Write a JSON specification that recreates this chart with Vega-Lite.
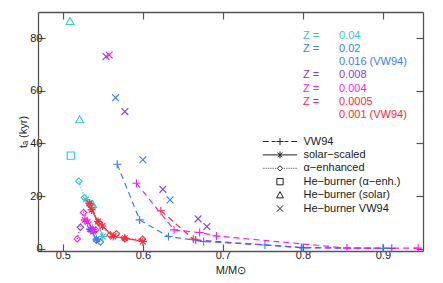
{
  "$schema": "https://vega.github.io/schema/vega-lite/v6.json",
  "autosize": "none",
  "width": 385,
  "height": 239,
  "padding": {"left": 38, "top": 12, "right": 20, "bottom": 32},
  "background": "white",
  "config": {
    "view": {"stroke": null},
    "axis": {"domainColor": "#555", "domainWidth": 1.3, "tickColor": "#555", "tickWidth": 1.2, "grid": false,
      "labelFont": "Liberation Sans", "labelFontSize": 11, "labelColor": "#222",
      "titleFont": "Liberation Sans", "titleFontSize": 11, "titleFontWeight": "normal", "titleColor": "#222"},
    "legend": {"labelFont": "Liberation Sans", "labelFontSize": 11}
  },
  "data": {"values": [
    {"M": 0.509, "t": 86.3, "Z": "0.04", "k": "hbs", "s": "c-h1"},
    {"M": 0.521, "t": 49, "Z": "0.04", "k": "hbs", "s": "c-h1"},
    {"M": 0.537, "t": 16.9, "Z": "0.04", "k": "hbs", "s": "c-h1"},
    {"M": 0.51, "t": 35.4, "Z": "0.04", "k": "hba", "s": "c-h2"},
    {"M": 0.52, "t": 25.7, "Z": "0.04", "k": "alp", "s": "c-a"},
    {"M": 0.527, "t": 19.5, "Z": "0.04", "k": "alp", "s": "c-a"},
    {"M": 0.538, "t": 15.8, "Z": "0.04", "k": "alp", "s": "c-a"},
    {"M": 0.529, "t": 18.7, "Z": "0.04", "k": "sol", "s": "c-s"},
    {"M": 0.534, "t": 17.2, "Z": "0.04", "k": "sol", "s": "c-s"},
    {"M": 0.55, "t": 4.7, "Z": "0.04", "k": "sol", "s": "c-s"},

    {"M": 0.535, "t": 7.3, "Z": "0.02", "k": "sol", "s": "b-s"},
    {"M": 0.542, "t": 3.7, "Z": "0.02", "k": "sol", "s": "b-s"},
    {"M": 0.542, "t": 3.3, "Z": "0.02", "k": "alp", "s": "b-a"},
    {"M": 0.547, "t": 2.6, "Z": "0.02", "k": "alp", "s": "b-a"},
    {"M": 0.568, "t": 32.1, "Z": "0.016", "k": "vw", "s": "b-v"},
    {"M": 0.596, "t": 11, "Z": "0.016", "k": "vw", "s": "b-v"},
    {"M": 0.632, "t": 4.7, "Z": "0.016", "k": "vw", "s": "b-v"},
    {"M": 0.676, "t": 2.8, "Z": "0.016", "k": "vw", "s": "b-v"},
    {"M": 0.7525, "t": 1.5, "Z": "0.016", "k": "vw", "s": "b-v"},
    {"M": 0.8, "t": 0.4, "Z": "0.016", "k": "vw", "s": "b-v"},
    {"M": 0.9, "t": 0.2, "Z": "0.016", "k": "vw", "s": "b-v"},
    {"M": 0.566, "t": 57.4, "Z": "0.016", "k": "hbv", "s": "b-h"},
    {"M": 0.6, "t": 33.8, "Z": "0.016", "k": "hbv", "s": "b-h"},
    {"M": 0.634, "t": 18.6, "Z": "0.016", "k": "hbv", "s": "b-h"},

    {"M": 0.554, "t": 73, "Z": "0.008", "k": "hbv", "s": "p-h"},
    {"M": 0.5775, "t": 52.1, "Z": "0.008", "k": "hbv", "s": "p-h"},
    {"M": 0.625, "t": 22.6, "Z": "0.008", "k": "hbv", "s": "p-h"},
    {"M": 0.669, "t": 11.4, "Z": "0.008", "k": "hbv", "s": "p-h"},
    {"M": 0.68, "t": 8.5, "Z": "0.008", "k": "hbv", "s": "p-h"},
    {"M": 0.522, "t": 8.2, "Z": "0.008", "k": "alp", "s": "p-a"},
    {"M": 0.534, "t": 7.5, "Z": "0.008", "k": "sol", "s": "p-s"},
    {"M": 0.538, "t": 6.6, "Z": "0.008", "k": "sol", "s": "p-s"},
    {"M": 0.666, "t": 3.4, "Z": "0.008", "k": "vw", "s": "p-v"},
    {"M": 0.798, "t": 0.5, "Z": "0.008", "k": "vw", "s": "p-v"},
    {"M": 0.911, "t": 0.2, "Z": "0.008", "k": "vw", "s": "p-v"},

    {"M": 0.558, "t": 73.6, "Z": "0.004", "k": "hbv", "s": "m-h"},
    {"M": 0.518, "t": 3.8, "Z": "0.004", "k": "alp", "s": "m-a"},
    {"M": 0.526, "t": 13.8, "Z": "0.004", "k": "alp", "s": "m-a"},
    {"M": 0.541, "t": 7.2, "Z": "0.004", "k": "alp", "s": "m-a"},
    {"M": 0.5275, "t": 11, "Z": "0.004", "k": "sol", "s": "m-s"},
    {"M": 0.531, "t": 10.2, "Z": "0.004", "k": "sol", "s": "m-s"},
    {"M": 0.538, "t": 7.2, "Z": "0.004", "k": "sol", "s": "m-s"},
    {"M": 0.592, "t": 24.9, "Z": "0.004", "k": "vw", "s": "m-v"},
    {"M": 0.639, "t": 7.2, "Z": "0.004", "k": "vw", "s": "m-v"},
    {"M": 0.671, "t": 6.2, "Z": "0.004", "k": "vw", "s": "m-v"},
    {"M": 0.692, "t": 4.9, "Z": "0.004", "k": "vw", "s": "m-v"},
    {"M": 0.855, "t": 0.3, "Z": "0.004", "k": "vw", "s": "m-v"},
    {"M": 0.944, "t": 0.3, "Z": "0.004", "k": "vw", "s": "m-v"},

    {"M": 0.533, "t": 17.3, "Z": "0.0005", "k": "sol", "s": "r-s"},
    {"M": 0.536, "t": 14.8, "Z": "0.0005", "k": "sol", "s": "r-s"},
    {"M": 0.544, "t": 10.4, "Z": "0.0005", "k": "sol", "s": "r-s"},
    {"M": 0.5496, "t": 8.7, "Z": "0.0005", "k": "sol", "s": "r-s"},
    {"M": 0.563, "t": 4.7, "Z": "0.0005", "k": "sol", "s": "r-s"},
    {"M": 0.5775, "t": 4.1, "Z": "0.0005", "k": "sol", "s": "r-s"},
    {"M": 0.6, "t": 2.8, "Z": "0.0005", "k": "sol", "s": "r-s"},
    {"M": 0.534, "t": 16.7, "Z": "0.0005", "k": "alp", "s": "r-a"},
    {"M": 0.545, "t": 10, "Z": "0.0005", "k": "alp", "s": "r-a"},
    {"M": 0.559, "t": 5.3, "Z": "0.0005", "k": "alp", "s": "r-a"},
    {"M": 0.567, "t": 5.7, "Z": "0.0005", "k": "alp", "s": "r-a"},
    {"M": 0.5775, "t": 3.8, "Z": "0.0005", "k": "alp", "s": "r-a"},
    {"M": 0.5996, "t": 3.7, "Z": "0.0005", "k": "alp", "s": "r-a"},
    {"M": 0.6225, "t": 14.5, "Z": "0.001", "k": "vw", "s": "r-v"},
    {"M": 0.663, "t": 3.7, "Z": "0.001", "k": "vw", "s": "r-v"}
  ]},
  "layer": [
    {
      "transform": [{"filter": {"field": "k", "oneOf": ["vw", "sol", "alp"]}}],
      "mark": {"type": "line", "strokeWidth": 1.2},
      "encoding": {
        "x": {"field": "M", "type": "quantitative",
          "scale": {"domain": [0.469, 0.95], "zero": false, "nice": false},
          "axis": {"orient": "bottom", "values": [0.5, 0.6, 0.7, 0.8, 0.9], "format": ".1f", "title": "M/M⊙", "tickSize": -7, "labelPadding": 5, "titlePadding": 4}},
        "y": {"field": "t", "type": "quantitative",
          "scale": {"domain": [-0.8, 89.9], "zero": false, "nice": false},
          "axis": {"orient": "left", "values": [0, 20, 40, 60, 80], "title": "tₐ (kyr)", "tickSize": -7, "labelPadding": 3, "titlePadding": 1}},
        "color": {"field": "Z", "type": "nominal",
          "scale": {"domain": ["z1", "z2", "b1", "z3", "z4", "z5", "b2", "0.04", "0.02", "0.016", "0.008", "0.004", "0.0005", "0.001"],
            "range": ["#33cccc", "#3a7dff", "#3a7dff", "#7b3cff", "#ff1ee6", "#ff2a3a", "#ff2a3a", "#33cccc", "#3a7dff", "#3a7dff", "#7b3cff", "#ff1ee6", "#ff2a3a", "#ff2a3a"]}},
        "strokeDash": {"field": "k", "type": "nominal",
          "scale": {"domain": ["vw", "sol", "alp"], "range": [[6, 4], [1, 0], [1, 2]]}, "legend": null},
        "detail": {"field": "s"}
      }
    },
    {
      "mark": {"type": "point", "filled": false, "strokeWidth": 1.1, "size": 64, "opacity": 1},
      "encoding": {
        "x": {"field": "M", "type": "quantitative",
          "axis": {"orient": "top", "values": [0.5, 0.6, 0.7, 0.8, 0.9], "labels": false, "title": null, "tickSize": -7}},
        "y": {"field": "t", "type": "quantitative",
          "axis": {"orient": "right", "values": [0, 20, 40, 60, 80], "labels": false, "title": null, "tickSize": -7}},
        "color": {"field": "Z", "type": "nominal",
          "legend": {"orient": "none", "legendX": 254, "legendY": 18, "title": null, "symbolOpacity": 0, "symbolSize": 0,
            "columns": 2, "columnPadding": 8, "gridAlign": "each",
            "labelOffset": 0, "labelFontSize": 11, "rowPadding": 1.25, "padding": 0,
            "labelColor": {"expr": "scale('color', datum.value)"},
            "labelExpr": "datum.label[0] == 'z' ? 'Z =' : datum.label[0] == 'b' ? '' : (datum.label == '0.016' || datum.label == '0.001') ? datum.label + ' (VW94)' : datum.label"}},
        "shape": {"field": "k", "type": "nominal",
          "scale": {"domain": ["vw", "sol", "alp", "hba", "hbs", "hbv"],
            "range": ["M-1,0H1M0,-1V1", "M-1,0H1M0,-1V1M-0.7,-0.7L0.7,0.7M-0.7,0.7L0.7,-0.7", "M0,-0.8L0.8,0L0,0.8L-0.8,0Z", "M-0.9,-0.9H0.9V0.9H-0.9Z", "M0,-1L1,0.75H-1Z", "M-0.85,-0.85L0.85,0.85M-0.85,0.85L0.85,-0.85"]},
          "legend": null}
      }
    },
    {
      "mark": {"type": "point", "filled": false, "opacity": 0, "size": 1},
      "encoding": {
        "x": {"field": "M", "type": "quantitative", "axis": null},
        "y": {"field": "t", "type": "quantitative", "axis": null},
        "shape": {"field": "k", "type": "nominal",
          "scale": {"domain": ["vw", "sol", "alp", "hba", "hbs", "hbv"],
            "range": [
              "M-4.9,0H-3.2M-2.4,0H-1.3M-1,0H1M0,-1V1M1.3,0H2.4M3.2,0H4.9",
              "M-4.9,0H4.9M0,-1V1M-0.7,-0.7L0.7,0.7M-0.7,0.7L0.7,-0.7",
              "M-4.9,0H-4.7M-4.4,0H-4.2M-3.9,0H-3.7M-3.4,0H-3.2M-2.9,0H-2.7M-2.4,0H-2.2M-1.9,0H-1.7M-1.4,0H-1.2M0,-0.75L0.75,0L0,0.75L-0.75,0ZM1.2,0H1.4M1.7,0H1.9M2.2,0H2.4M2.7,0H2.9M3.2,0H3.4M3.7,0H3.9M4.2,0H4.4M4.7,0H4.9",
              "M-0.9,-0.9H0.9V0.9H-0.9Z",
              "M0,-1L1,0.8H-1Z",
              "M-0.9,-0.9L0.9,0.9M-0.9,0.9L0.9,-0.9"]},
          "legend": {"orient": "none", "legendX": 236.5, "legendY": 124, "title": null, "symbolSize": 49,
            "labelOffset": 18, "rowPadding": 1.4, "padding": 0, "labelFontSize": 11, "labelColor": "#222",
            "symbolStrokeColor": "#222", "symbolFillColor": "transparent", "symbolStrokeWidth": 1, "symbolOpacity": 1,
            "labelExpr": "datum.label == 'vw' ? 'VW94' : datum.label == 'sol' ? 'solar−scaled' : datum.label == 'alp' ? 'α−enhanced' : datum.label == 'hba' ? 'He−burner (α−enh.)' : datum.label == 'hbs' ? 'He−burner (solar)' : 'He−burner VW94'"}}
      }
    }
  ],
  "resolve": {"axis": {"x": "independent", "y": "independent"}, "scale": {"shape": "independent"}}
}
